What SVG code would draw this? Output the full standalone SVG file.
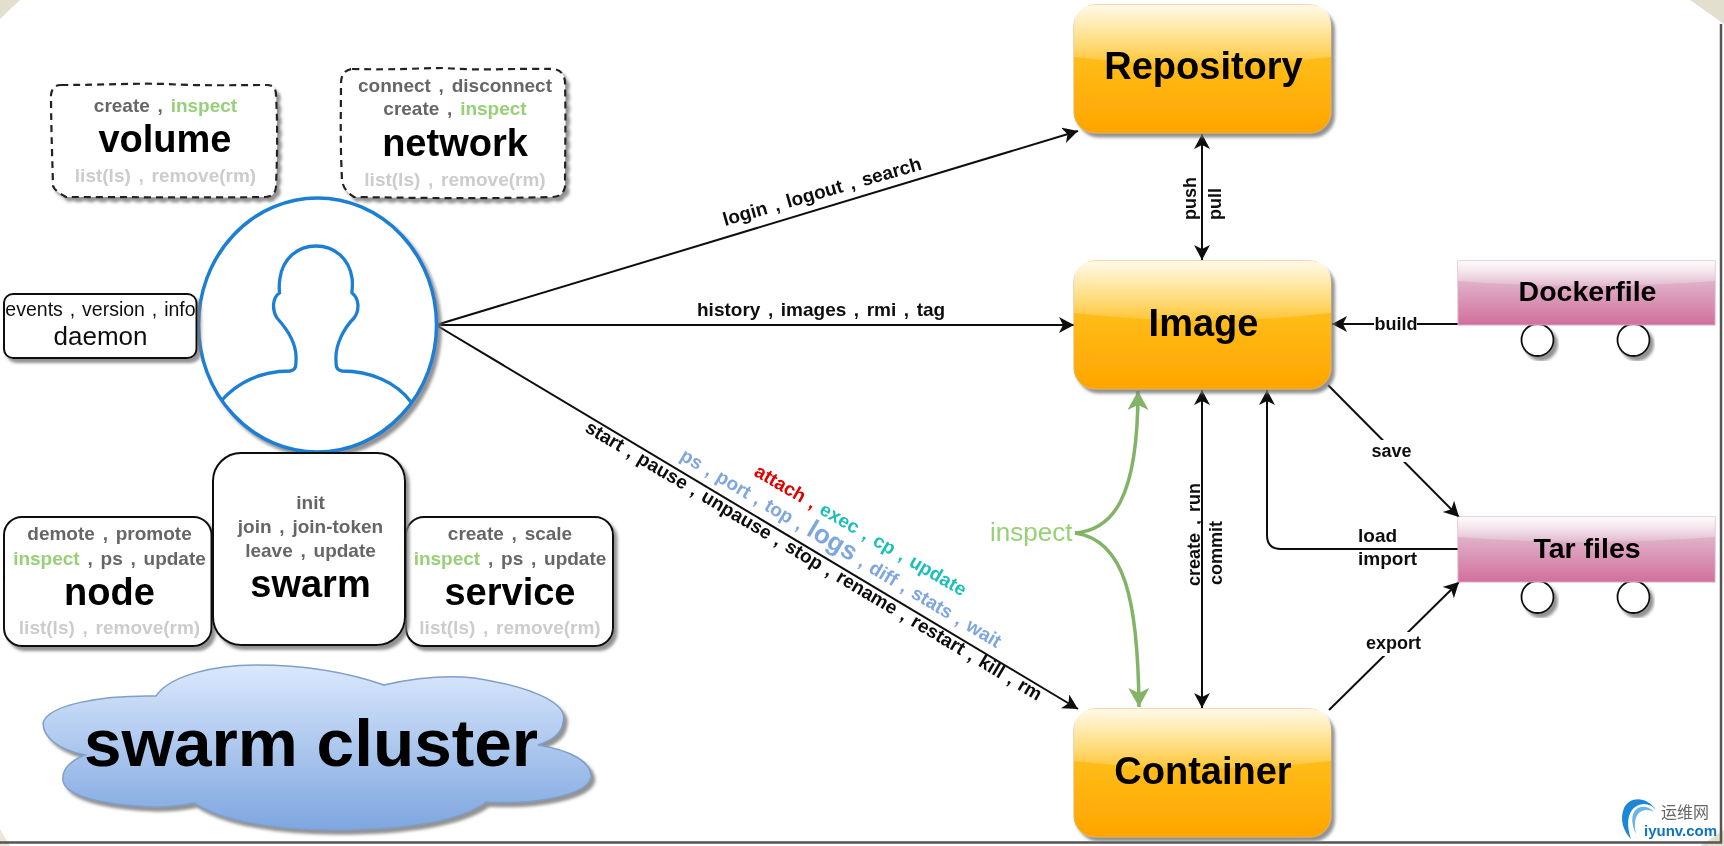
<svg xmlns="http://www.w3.org/2000/svg" width="1724" height="846" viewBox="0 0 1724 846">
<style>
text{font-family:"Liberation Sans",Arial,sans-serif;}
.t{font-size:19px;word-spacing:2.500px;font-weight:bold;text-anchor:middle;fill:#666;}
.l{font-size:19px;word-spacing:2.500px;font-weight:bold;text-anchor:middle;fill:#ccc;}
.h{font-size:38px;font-weight:bold;text-anchor:middle;fill:#000;}
.k{font-size:19px;word-spacing:2.300px;font-weight:bold;fill:#111;}
.e{font-size:18px;font-weight:bold;fill:#111;}
.g{fill:#97d077;}
.box{fill:#fff;stroke:#111;stroke-width:2;}
.dash{fill:#fff;stroke:#222;stroke-width:2.200;stroke-dasharray:7 5;}
.w{fill:#fff;stroke:#111;stroke-width:1.800;}
.c{fill:none;stroke:#111;stroke-width:2;}
.big{font-size:38px;font-weight:bold;text-anchor:middle;fill:#000;}
</style>
<defs>
<filter id="soft" x="0" y="0" width="1724" height="846" filterUnits="userSpaceOnUse" primitiveUnits="userSpaceOnUse"><feGaussianBlur stdDeviation="0.450"/></filter>
<filter id="sh" x="-10%" y="-10%" width="125%" height="125%"><feDropShadow dx="3.500" dy="4" stdDeviation="1.800" flood-color="#777" flood-opacity="0.800"/></filter>
<linearGradient id="or" x1="0" y1="0" x2="0" y2="1"><stop offset="0" stop-color="#ffcd28"/><stop offset="1" stop-color="#ffa500"/></linearGradient>
<linearGradient id="pk" x1="0" y1="0" x2="0" y2="1"><stop offset="0" stop-color="#e6d0de"/><stop offset="1" stop-color="#d16f9c"/></linearGradient>
<linearGradient id="gl" x1="0" y1="0" x2="0" y2="1"><stop offset="0" stop-color="#fff" stop-opacity="0.900"/><stop offset="1" stop-color="#fff" stop-opacity="0.150"/></linearGradient>
<linearGradient id="bl" x1="0" y1="0" x2="0" y2="1"><stop offset="0" stop-color="#dae8fc"/><stop offset="1" stop-color="#7ea6e0"/></linearGradient>
<marker id="a" markerUnits="userSpaceOnUse" markerWidth="18" markerHeight="18" refX="15" refY="8" orient="auto-start-reverse"><path d="M0 0L15 8L0 16L4 8Z" fill="#111"/></marker>
<marker id="ag" markerUnits="userSpaceOnUse" markerWidth="24" markerHeight="24" refX="19" refY="10.500" orient="auto-start-reverse"><path d="M0 0L19 10.500L0 21L5 10.500Z" fill="#82b366"/></marker>
</defs>
<rect width="1724" height="846" fill="#fff"/>
<g id="diagram" filter="url(#soft)">
<g id="frame">
<path d="M0 0H20L0 19Z" fill="#e2dfce"/>
<path d="M1690 0H1724V24Z" fill="#e2dfce"/>
<path d="M1700 846L1724 830V846Z" fill="#e2dfce"/>
<path d="M0 829L10 846H0Z" fill="#e9e7da"/>
<path d="M0 842.500H1721V24" fill="none" stroke="#555" stroke-width="2.500"/>
</g>
<g id="connectors">
<path class="c" d="M436 325L1078 131" marker-end="url(#a)"/>
<path class="c" d="M436 325H1074" marker-end="url(#a)"/>
<path class="c" d="M436 325L1078 709" marker-end="url(#a)"/>
<path class="c" d="M1202 134V260" marker-start="url(#a)" marker-end="url(#a)"/>
<path class="c" d="M1202 390V708" marker-start="url(#a)" marker-end="url(#a)"/>
<path class="c" d="M1458 324H1332" marker-end="url(#a)"/>
<path class="c" d="M1458 549H1281Q1267 549 1267 535V390" marker-end="url(#a)"/>
<path class="c" d="M1328 385L1459 517" marker-end="url(#a)"/>
<path class="c" d="M1329 710L1459 582" marker-end="url(#a)"/>
<path d="M1075 533C1112 530 1138 500 1138 391" fill="none" stroke="#82b366" stroke-width="3.500" marker-end="url(#ag)"/>
<path d="M1075 533C1125 540 1138 600 1139 707" fill="none" stroke="#82b366" stroke-width="3.500" marker-end="url(#ag)"/>
</g>
<g id="labels">
<text class="k" transform="translate(725 226) rotate(-16)">login , logout , search</text>
<text class="k" x="697" y="316">history , images , rmi , tag</text>
<text class="k" style="word-spacing:1.800px" transform="translate(584 431) rotate(30.800)">start , pause , unpause , stop , rename , restart , kill , rm</text>
<text class="k" style="fill:#7ea6e0;word-spacing:1.800px" transform="translate(679 459) rotate(30.800)">ps , port , top , <tspan font-size="26">logs</tspan> , diff , stats , wait</text>
<text class="k" style="fill:#1fbfb8;word-spacing:1.900px" transform="translate(753 475) rotate(30.200)"><tspan style="fill:#e00000">attach ,</tspan> exec , cp , update</text>
<text x="990" y="541" font-size="26" fill="#97d077">inspect</text>
<text class="e" transform="translate(1195.500 220) rotate(-90)">push</text>
<text class="e" transform="translate(1221 220) rotate(-90)">pull</text>
<text class="e" transform="translate(1200 586) rotate(-90)" style="word-spacing:3px">create , run</text>
<text class="e" transform="translate(1222 585) rotate(-90)">commit</text>
<rect x="1374" y="312" width="43" height="20" fill="#fff"/>
<text class="e" x="1374.500" y="330">build</text>
<rect x="1368" y="440" width="46" height="22" fill="#fff"/>
<text class="e" x="1391.500" y="456.500" text-anchor="middle">save</text>
<rect x="1364" y="632" width="58" height="24" fill="#fff"/>
<text class="e" x="1393.500" y="648.500" text-anchor="middle">export</text>
<text class="e" style="font-size:19px" x="1358" y="541.500">load</text>
<text class="e" style="font-size:19px" x="1358" y="565">import</text>
</g>
<g id="user">
<ellipse cx="317.500" cy="325" rx="119" ry="127" fill="#fff" stroke="#1b7fd4" stroke-width="3.500" filter="url(#sh)"/>
<path d="M221 401C240 380 262 371 290 371C296 370 296 366 296 360C297 345 288 330 277 318C272 310 272 298 279.500 293C279 288 279 284 280 278C283 258 298 246 316 246C334 246 349 258 352 278C353 284 352 288 352 293C359 298 360 310 354 318C344 328 335 345 336 360C336 366 336 370 342 371C370 371 396 382 411 402" fill="none" stroke="#1b7fd4" stroke-width="3.300"/>
</g>
<g id="volume">
<path class="dash" filter="url(#sh)" d="M61 85C110 85 130 83 165 84C200 86 240 85 267 85Q276 85 276 95C278 130 277 160 276 187Q275 197 265 197C200 198 130 197 66 197Q53 190 53 185C52 150 51 120 51 95Q52 85 61 85Z"/>
<text class="t" x="165.500" y="112">create , <tspan class="g">inspect</tspan></text>
<text class="h" x="165" y="152">volume</text>
<text class="l" x="165.500" y="182">list(ls) , remove(rm)</text>
</g>
<g id="network">
<path class="dash" filter="url(#sh)" d="M352 69C400 70 420 68 445 68C480 71 520 68 553 69Q564 70 565 82C566 120 565 160 565 187Q563 197 552 197C480 199 420 198 354 197Q343 190 342 180C340 140 341 110 341 82Q342 70 352 69Z"/>
<text class="t" x="455" y="92">connect , disconnect</text>
<text class="t" x="455" y="115">create , <tspan class="g">inspect</tspan></text>
<text class="h" x="455" y="156">network</text>
<text class="l" x="455" y="186">list(ls) , remove(rm)</text>
</g>
<g id="daemon">
<rect class="box" x="4" y="294" width="192.500" height="64" rx="9" filter="url(#sh)"/>
<text x="100.500" y="316" font-size="19.500" style="word-spacing:1.500px" text-anchor="middle" fill="#111">events , version , info</text>
<text x="100.500" y="344.500" font-size="26" text-anchor="middle" fill="#111">daemon</text>
</g>
<g id="node">
<rect class="box" x="4" y="517" width="207.500" height="129" rx="18" filter="url(#sh)"/>
<text class="t" x="109.500" y="540">demote , promote</text>
<text class="t" x="109.500" y="564.500"><tspan class="g">inspect</tspan> , ps , update</text>
<text class="h" x="109.500" y="605">node</text>
<text class="l" x="109.500" y="634">list(ls) , remove(rm)</text>
</g>
<g id="service">
<rect class="box" x="406" y="517" width="207" height="129" rx="18" filter="url(#sh)"/>
<text class="t" x="510" y="540">create , scale</text>
<text class="t" x="510" y="564.500"><tspan class="g">inspect</tspan> , ps , update</text>
<text class="h" x="510" y="605">service</text>
<text class="l" x="510" y="634">list(ls) , remove(rm)</text>
</g>
<g id="swarm">
<rect class="box" x="213" y="453" width="192" height="192" rx="28" filter="url(#sh)"/>
<text class="t" x="310.500" y="508.500">init</text>
<text class="t" x="310.500" y="532.500">join , join-token</text>
<text class="t" x="310.500" y="556.500">leave , update</text>
<text class="h" x="310.500" y="597">swarm</text>
</g>
<g id="cloud">
<path d="M43 723C48 705 100 695 156 696C170 675 215 665 257 665C310 665 355 675 384 685C415 678 445 675 474 678C520 685 570 700 563 722C562 735 550 741 538 745C570 750 592 762 591 777C588 795 535 805 486 802C460 822 400 830 336 830C270 830 220 820 194 803C180 806 165 807 154 807C100 805 60 795 63 777C63 768 72 760 85 755C60 750 43 738 43 723Z" fill="url(#bl)" stroke="#7f9fc8" stroke-width="1.500" filter="url(#sh)"/>
<text x="311" y="766" font-size="67.500" font-weight="bold" text-anchor="middle" fill="#000">swarm cluster</text>
</g>
<g id="repository">
<rect x="1074" y="5" width="257" height="128" rx="21" fill="url(#or)" stroke="#e8b050" stroke-width="1" filter="url(#sh)"/>
<path d="M1095 5H1310Q1331 5 1331 26V57Q1202 72 1074 57V26Q1074 5 1095 5Z" fill="url(#gl)"/>
<text class="big" x="1203.500" y="79">Repository</text>
</g>
<g id="image">
<rect x="1074" y="261" width="257" height="128" rx="21" fill="url(#or)" stroke="#e8b050" stroke-width="1" filter="url(#sh)"/>
<path d="M1095 261H1310Q1331 261 1331 282V313Q1202 328 1074 313V282Q1074 261 1095 261Z" fill="url(#gl)"/>
<text class="big" x="1203.500" y="336">Image</text>
</g>
<g id="container">
<rect x="1074" y="709" width="257" height="128" rx="21" fill="url(#or)" stroke="#e8b050" stroke-width="1" filter="url(#sh)"/>
<path d="M1095 709H1310Q1331 709 1331 730V761Q1202 776 1074 761V730Q1074 709 1095 709Z" fill="url(#gl)"/>
<text class="big" x="1203" y="784">Container</text>
</g>
<g id="dockerfile">
<circle class="w" cx="1537.500" cy="340" r="16" filter="url(#sh)"/>
<circle class="w" cx="1633.500" cy="340" r="16" filter="url(#sh)"/>
<rect x="1458" y="261" width="257" height="64" fill="url(#pk)" stroke="#d9a9c0" stroke-width="1"/>
<path d="M1458 261H1715V281Q1586 291 1458 281Z" fill="url(#gl)"/>
<text x="1587.500" y="300.500" font-size="28.500" font-weight="bold" text-anchor="middle" fill="#000">Dockerfile</text>
</g>
<g id="tarfiles">
<circle class="w" cx="1537.500" cy="597" r="16" filter="url(#sh)"/>
<circle class="w" cx="1633.500" cy="597" r="16" filter="url(#sh)"/>
<rect x="1458" y="517" width="257" height="65" fill="url(#pk)" stroke="#d9a9c0" stroke-width="1"/>
<path d="M1458 517H1715V537Q1586 547 1458 537Z" fill="url(#gl)"/>
<text x="1587" y="558" font-size="28.500" font-weight="bold" text-anchor="middle" fill="#000">Tar files</text>
</g>
<g id="watermark">
<path d="M1656 810C1648 797 1630 795 1624 808C1619 820 1624 832 1631 839C1628 830 1626 818 1632 810C1638 802 1650 802 1656 810Z" fill="#1b87d8"/>
<path d="M1654 812C1648 805 1638 805 1634 812C1631 818 1632 826 1636 834C1634 824 1635 818 1638 814C1642 809 1649 809 1654 812Z" fill="#6bb5e8"/>
<text x="1661" y="818" font-size="16" fill="#666" style="font-family:'Noto Sans CJK SC',sans-serif">运维网</text>
<text x="1644" y="835.500" font-size="15" font-weight="bold" fill="#0c73c4">iyunv.com</text>
</g>
</g>
</svg>
